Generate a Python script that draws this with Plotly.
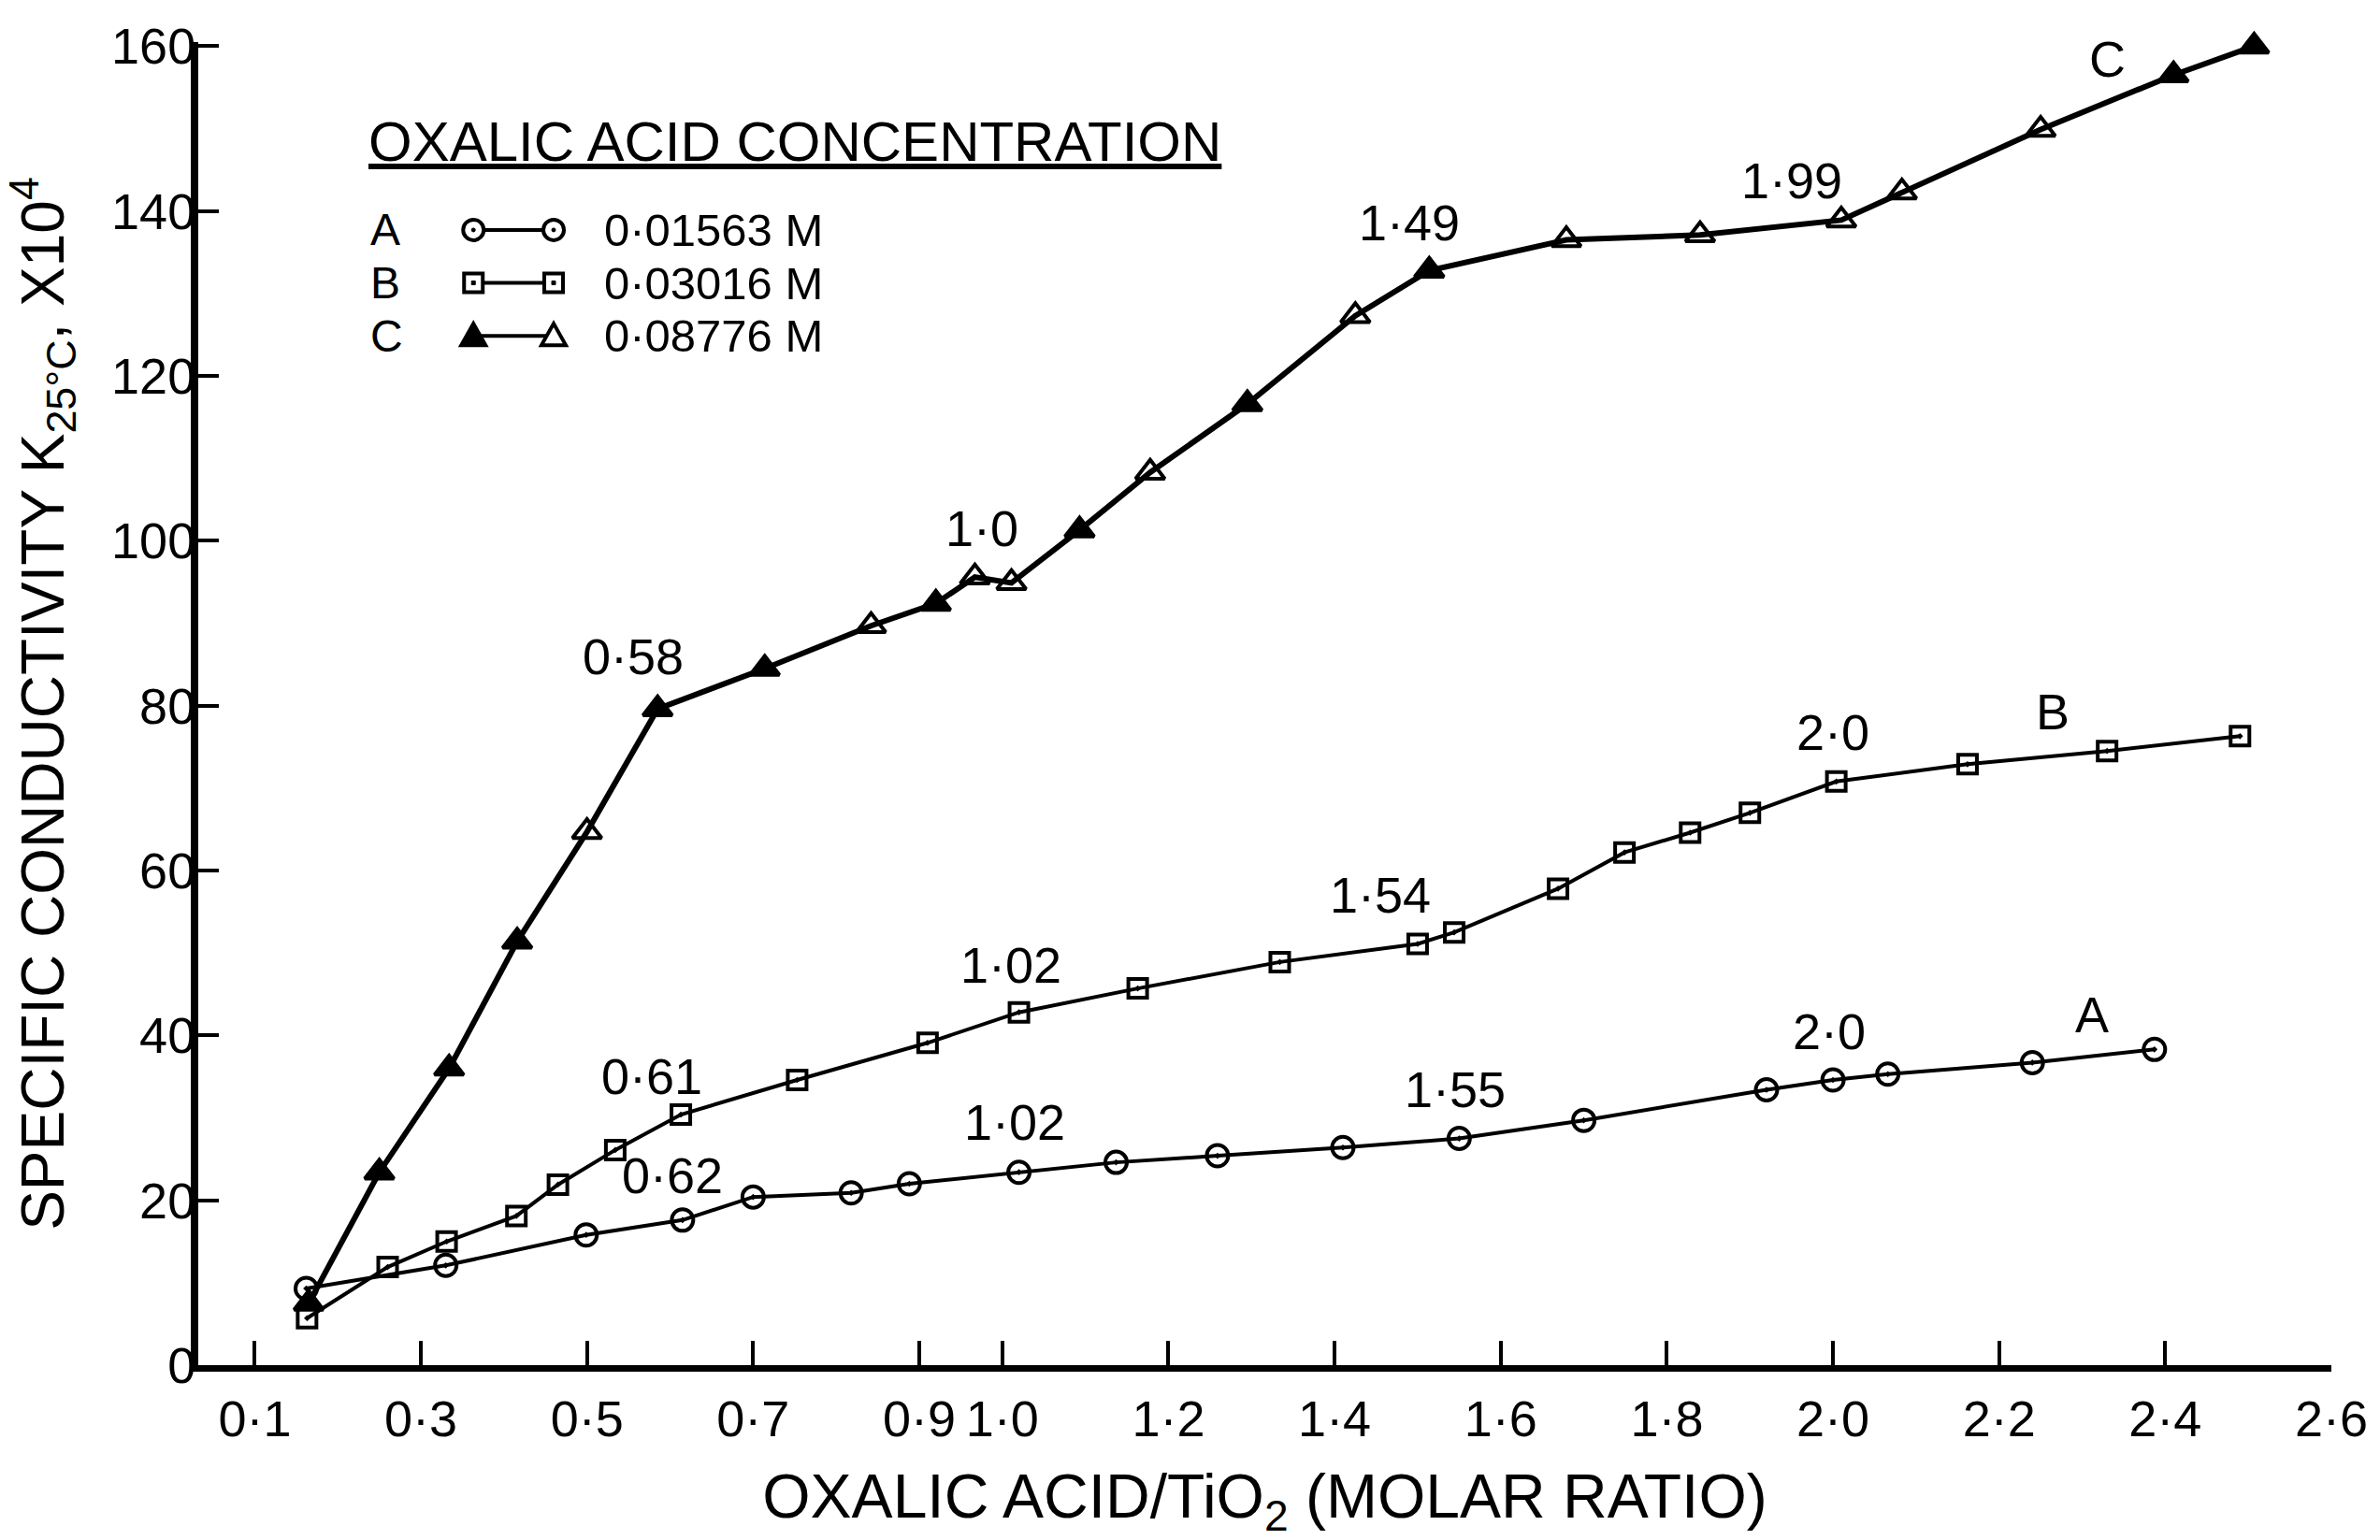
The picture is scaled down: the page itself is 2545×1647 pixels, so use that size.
import plotly.graph_objects as go

# ---------------- data ----------------
A_x = [0.162, 0.33, 0.499, 0.615, 0.70, 0.818, 0.888, 1.02, 1.137, 1.259, 1.41,
       1.55, 1.70, 1.92, 2.00, 2.066, 2.24, 2.387]
A_y = [9.3, 12.1, 15.8, 17.6, 20.4, 20.9, 22.0, 23.4, 24.6, 25.4, 26.4,
       27.5, 29.7, 33.4, 34.6, 35.3, 36.7, 38.3]

B_x = [0.163, 0.26, 0.331, 0.415, 0.465, 0.534, 0.613, 0.753, 0.91, 1.02, 1.163,
       1.334, 1.50, 1.544, 1.669, 1.749, 1.828, 1.90, 2.004, 2.162, 2.33, 2.49]
B_y = [5.7, 11.9, 15.0, 18.1, 21.9, 26.1, 30.4, 34.6, 39.1, 42.8, 45.7,
       48.9, 51.1, 52.5, 57.8, 62.2, 64.6, 67.0, 70.8, 72.9, 74.5, 76.3]

C_x = [0.165, 0.25, 0.334, 0.416, 0.50, 0.585, 0.714, 0.842, 0.92, 0.967, 1.011,
       1.093, 1.178, 1.295, 1.425, 1.514, 1.679, 1.84, 2.01, 2.083, 2.25, 2.41, 2.507]
C_y = [7.5, 23.4, 36.0, 51.4, 64.7, 79.6, 84.5, 89.7, 92.4, 95.6, 94.9,
       101.3, 108.3, 116.6, 127.3, 132.8, 136.5, 137.1, 138.9, 142.3, 149.9, 156.5, 160.0]

series_names = ["0·01563 M", "0·03016 M", "0·08776 M"]
series_letters = ["A", "B", "C"]
legend_title = "OXALIC ACID CONCENTRATION"

x_tick_vals = [0.1, 0.3, 0.5, 0.7, 0.9, 1.0, 1.2, 1.4, 1.6, 1.8, 2.0, 2.2, 2.4, 2.6]
x_tick_text = ["0·1", "0·3", "0·5", "0·7", "0·9", "1·0", "1·2", "1·4", "1·6",
               "1·8", "2·0", "2·2", "2·4", "2·6"]
y_tick_vals = [0, 20, 40, 60, 80, 100, 120, 140, 160]

# break-point labels (text, x, y)
label_text = ["0·58", "1·0", "1·49", "1·99", "C",
              "0·61", "1·02", "1·54", "2·0", "B",
              "0·62", "1·02", "1·55", "2·0", "A"]
label_x = [0.555, 0.975, 1.49, 1.95, 2.33,
           0.578, 1.01, 1.455, 2.0, 2.265,
           0.603, 1.015, 1.545, 1.995, 2.312]
label_y = [86.0, 101.5, 138.6, 143.7, 158.5,
           35.0, 48.5, 57.0, 76.8, 79.3,
           23.0, 29.5, 33.5, 40.5, 42.5]

# ---------------- styling ----------------
FONT = "Liberation Sans, Arial, sans-serif"
C_symbols = ["triangle-up" if f else "triangle-up-open" for f in
             [1, 1, 1, 1, 0, 1, 1, 0, 1, 0, 0, 1, 0, 1, 0, 1, 0, 0, 0, 0, 0, 1, 1]]

fig = go.Figure()
fig.add_trace(go.Scatter(
    x=A_x, y=A_y, mode="lines+markers", name=series_names[0],
    line=dict(color="black", width=4),
    marker=dict(symbol="circle-open-dot", size=23, color="black",
                line=dict(color="black", width=4)),
    cliponaxis=False, showlegend=False))
fig.add_trace(go.Scatter(
    x=B_x, y=B_y, mode="lines+markers", name=series_names[1],
    line=dict(color="black", width=4),
    marker=dict(symbol="square-open-dot", size=20, color="black",
                line=dict(color="black", width=4)),
    cliponaxis=False, showlegend=False))
fig.add_trace(go.Scatter(
    x=C_x, y=C_y, mode="lines+markers", name=series_names[2],
    line=dict(color="black", width=6),
    marker=dict(symbol=C_symbols, size=27, color="black",
                line=dict(color="black", width=4)),
    cliponaxis=False, showlegend=False))

annotations = []
for t, x, y in zip(label_text, label_x, label_y):
    annotations.append(dict(x=x, y=y, xref="x", yref="y", text=t, showarrow=False,
                            font=dict(family=FONT, size=54, color="black"),
                            xanchor="center", yanchor="middle"))

# ---- hand-drawn style key (layout decoration in paper coordinates) ----
KEY_LETTER_X = 0.080
KEY_SYM_X0 = 0.129
KEY_SYM_X1 = 0.1666
KEY_TEXT_X = 0.1894
KEY_ROWS_Y = [0.858, 0.818, 0.778]

annotations.append(dict(x=0.079, y=0.925, xref="paper", yref="paper",
                        text="<u>" + legend_title + "</u>", showarrow=False,
                        font=dict(family=FONT, size=60, color="black"),
                        xanchor="left", yanchor="middle"))
for letter, name, yy in zip(series_letters, series_names, KEY_ROWS_Y):
    annotations.append(dict(x=KEY_LETTER_X, y=yy, xref="paper", yref="paper", text=letter,
                            showarrow=False, font=dict(family=FONT, size=48, color="black"),
                            xanchor="left", yanchor="middle"))
    annotations.append(dict(x=KEY_TEXT_X, y=yy, xref="paper", yref="paper", text=name,
                            showarrow=False, font=dict(family=FONT, size=49, color="black"),
                            xanchor="left", yanchor="middle"))

shapes = []


def key_marker(kind, xa, ya, filled):
    base = dict(xref="paper", yref="paper", xsizemode="pixel", ysizemode="pixel",
                xanchor=xa, yanchor=ya, line=dict(color="black", width=4),
                fillcolor="black" if filled else "white", layer="above")
    out = []
    if kind == "circle":
        out.append(dict(base, type="circle", x0=-11, x1=11, y0=-11, y1=11))
        out.append(dict(base, type="circle", x0=-2, x1=2, y0=-2, y1=2, fillcolor="black",
                        line=dict(color="black", width=1)))
    elif kind == "square":
        out.append(dict(base, type="rect", x0=-10, x1=10, y0=-10, y1=10))
        out.append(dict(base, type="rect", x0=-2, x1=2, y0=-2, y1=2, fillcolor="black",
                        line=dict(color="black", width=1)))
    else:
        out.append(dict(base, type="path", path="M-13,-10 L13,-10 L0,13 Z"))
    return out


for kind, yy in zip(["circle", "square", "triangle"], KEY_ROWS_Y):
    shapes.append(dict(type="line", xref="paper", yref="paper", x0=KEY_SYM_X0, x1=KEY_SYM_X1,
                       y0=yy, y1=yy, line=dict(color="black", width=4), layer="above"))
    shapes += key_marker(kind, KEY_SYM_X0, yy, kind == "triangle")
    shapes += key_marker(kind, KEY_SYM_X1, yy, False)

fig.update_layout(
    width=2545, height=1647,
    margin=dict(l=212, r=52, t=45, b=187, pad=0),
    paper_bgcolor="white", plot_bgcolor="white",
    font=dict(family=FONT, color="black", size=52),
    showlegend=False,
    annotations=annotations,
    shapes=shapes,
    xaxis=dict(range=[0.032, 2.6], tickmode="array", tickvals=x_tick_vals,
               ticktext=x_tick_text, ticks="inside", ticklen=26, tickwidth=4,
               tickcolor="black", showline=True, linecolor="black", linewidth=7,
               showgrid=False, zeroline=False, ticklabelstandoff=4,
               tickfont=dict(family=FONT, size=54, color="black"),
               title=dict(text="OXALIC ACID/TiO<sub>2</sub> (MOLAR RATIO)",
                          font=dict(family=FONT, size=66, color="black"), standoff=34)),
    yaxis=dict(range=[0, 160.5], tickmode="array", tickvals=y_tick_vals,
               ticks="inside", ticklen=22, tickwidth=4, tickcolor="black",
               showline=True, linecolor="black", linewidth=8,
               showgrid=False, zeroline=False, ticklabelstandoff=-16,
               tickfont=dict(family=FONT, size=54, color="black"),
               title=dict(text="SPECIFIC CONDUCTIVITY K<sub>25°C</sub>, X10<sup>4</sup>",
                          font=dict(family=FONT, size=64, color="black"), standoff=48)),
)

fig.write_html("out.html", config={"displayModeBar": False},
               post_script="document.body.style.margin='0';document.body.style.overflow='hidden';")
